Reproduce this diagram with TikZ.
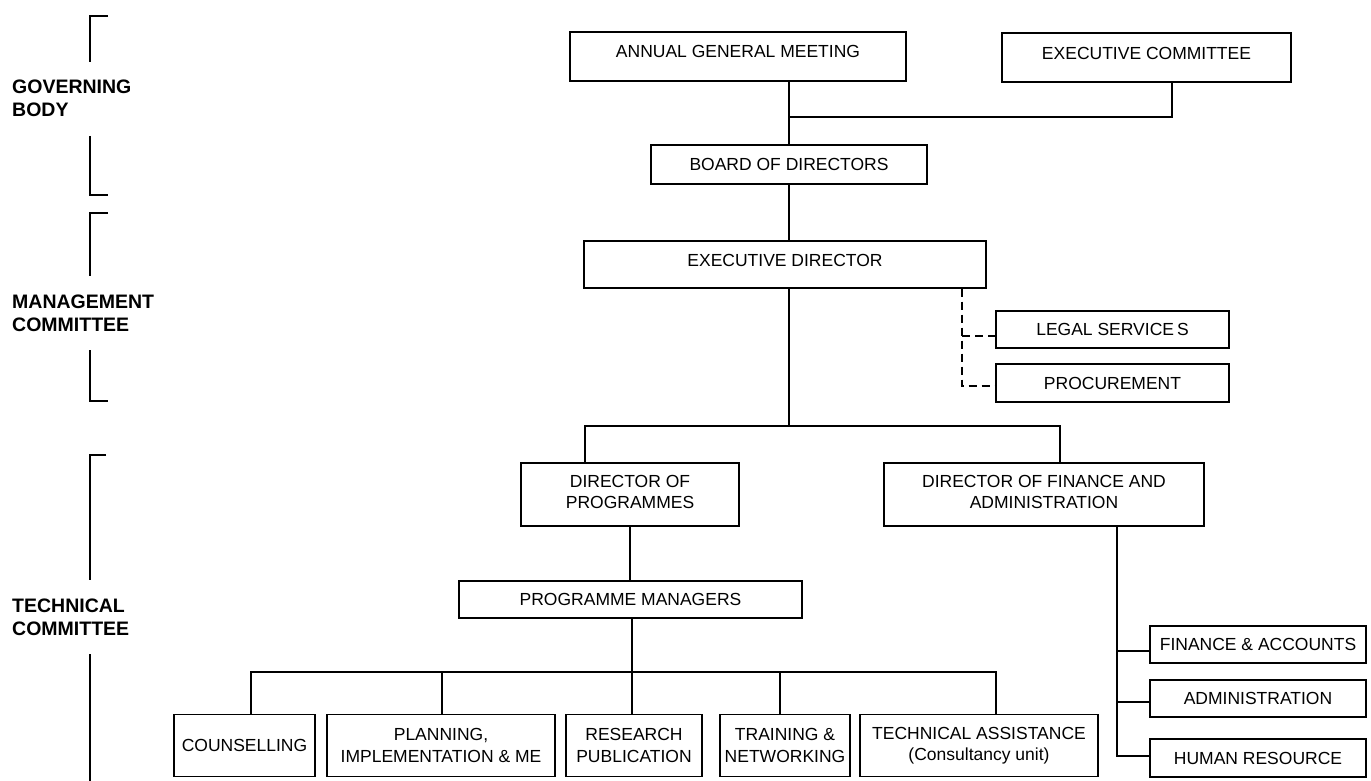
\documentclass[tikz,border=0pt]{standalone}
\usepackage{fontspec}
\setmainfont{Liberation Sans}
\newcommand\obox[7]{%
  \node[box, minimum width=#4pt, minimum height=#5pt] (#1) at (#2,#3) {};
  \node[txt] (#1t) at ([yshift=#6pt]#1.center) {#7};}
\begin{document}
\begin{tikzpicture}[x=1pt,y=-1pt,
  box/.style={draw, line width=1.2pt, inner sep=0pt},
  txt/.style={align=center, font=\fontsize{17.5}{21.5}\selectfont, inner sep=0pt},
  lbl/.style={align=left, anchor=west, font=\bfseries\fontsize{19.5}{23}\selectfont, inner sep=0pt},
  conn/.style={line width=1.2pt},
  dconn/.style={line width=1.2pt, dash pattern=on 8pt off 5pt},
  brk/.style={line width=1.2pt}]
\useasboundingbox (0,0) rectangle (1371,781);

% left brackets and labels
\node[lbl] (gb) at (12,98.5) {GOVERNING\\BODY};
\node[lbl] (mc) at (12,313) {MANAGEMENT\\COMMITTEE};
\node[lbl] (tc) at (12,617) {TECHNICAL\\COMMITTEE};
\draw[brk] (108,16) -- (90,16) -- (90,62);
\draw[brk] (90,136) -- (90,195) -- (108,195);
\draw[brk] (108,213) -- (90,213) -- (90,276);
\draw[brk] (90,350) -- (90,401) -- (108,401);
\draw[brk] (106,455) -- (90,455) -- (90,580);
\draw[brk] (90,654) -- (90,781);

% boxes
\obox{agm}{738}{56.5}{336}{49}{5.5}{ANNUAL GENERAL MEETING}
\obox{ec}{1146.5}{57.5}{289}{49}{4.5}{EXECUTIVE COMMITTEE}
\obox{bod}{789}{164.5}{276}{39}{0}{BOARD OF DIRECTORS}
\obox{ed}{785}{264.5}{402}{47}{4.5}{EXECUTIVE DIRECTOR}
\obox{ls}{1112.5}{329.5}{233}{37}{0}{LEGAL SERVICE\kern3pt S}
\obox{proc}{1112.5}{383}{233}{38}{0}{PROCUREMENT}
\obox{dop}{630}{494.5}{218}{63}{2.5}{DIRECTOR OF\\PROGRAMMES}
\obox{dofa}{1044}{494.5}{320}{63}{2.5}{DIRECTOR OF FINANCE AND\\ADMINISTRATION}
\obox{pm}{630.5}{599.5}{343}{37}{0}{PROGRAMME MANAGERS}
\obox{couns}{244.5}{745.5}{141}{62}{0}{COUNSELLING}
\obox{plan}{441}{745.5}{228}{62}{0}{PLANNING,\\IMPLEMENTATION \& ME}
\obox{res}{634}{745.5}{136}{62}{0}{RESEARCH\\PUBLICATION}
\obox{train}{785}{745.5}{130}{62}{0}{TRAINING \&\\NETWORKING}
\obox{tech}{979}{745.5}{238}{62}{0}{TECHNICAL ASSISTANCE\\(Consultancy unit)}
\obox{fa}{1258}{644.5}{216}{37}{0}{FINANCE \& ACCOUNTS}
\obox{adm}{1258}{698.5}{216}{37}{0}{ADMINISTRATION}
\obox{hr}{1258}{758}{216}{38}{0}{HUMAN RESOURCE}

% governing connectors
\coordinate (ecj) at (1172,117);
\draw[conn] (bod.north |- agm.south) -- (bod.north);
\draw[conn] (ecj |- ec.south) -- (ecj) -- (bod.north |- ecj);
\draw[conn] (bod.south) -- (bod.south |- ed.north);

% dashed staff lines
\coordinate (dA) at (962,336);
\coordinate (dB) at (962,386);
\draw[dconn] (dA |- ed.south) -- (dB) -- (dB -| proc.west);
\draw[dconn] (dA) -- (dA -| ls.west);

% directors
\coordinate (busL) at (585,426);
\coordinate (busR) at (1060,426);
\draw[conn] (bod.south |- ed.south) -- (bod.south |- busL);
\draw[conn] (busL |- dop.north) -- (busL) -- (busR) -- (busR |- dofa.north);
\draw[conn] (dop.south) -- (dop.south |- pm.north);

% programme units
\coordinate (pbus) at (632,672);
\draw[conn] (pbus |- pm.south) -- (pbus);
\coordinate (p1) at (251,672);
\coordinate (p2) at (442,672);
\coordinate (p4) at (780,672);
\coordinate (p5) at (996,672);
\draw[conn] (p1 |- couns.north) -- (p1) -- (p5) -- (p5 |- tech.north);
\draw[conn] (p2) -- (p2 |- plan.north);
\draw[conn] (pbus) -- (pbus |- res.north);
\draw[conn] (p4) -- (p4 |- train.north);

% finance units
\coordinate (fv) at (1117,756);
\coordinate (f1) at (1117,651);
\coordinate (f2) at (1117,702);
\draw[conn] (fv |- dofa.south) -- (fv) -- (fv -| hr.west);
\draw[conn] (f1) -- (f1 -| fa.west);
\draw[conn] (f2) -- (f2 -| adm.west);
\end{tikzpicture}
\end{document}
